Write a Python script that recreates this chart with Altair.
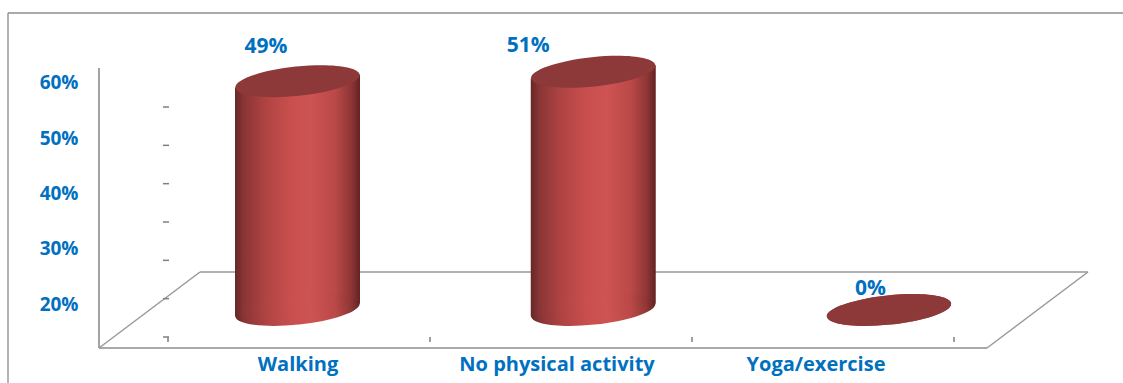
import math
import altair as alt
import pandas as pd

# ---------------- data ----------------
categories = ["Walking", "No physical activity", "Yoga/exercise"]
values = [0.49, 0.51, 0.0]
value_labels = ["49%", "51%", "0%"]
axis_ticks = [0.2, 0.3, 0.4, 0.5, 0.6]
wall_ticks = [0.0, 0.1, 0.2, 0.3, 0.4, 0.5, 0.6]
floor_ticks = [0, 1, 2, 3]

# ---------------- layout / style ----------------
W, H = 989, 328
BLUE = "#0070C0"
FONT = "Open Sans"
GRID = "#999999"
TILT_DEG = 6.0
CYL_HALF = 0.2113  # half cylinder width in category units

cyl_x_dom = [-0.6712, 2.6729]
cyl_y_dom = [-0.0814, 0.6210]
lab_y_dom = [0.1204, 0.7140]
wall_y_dom = [-0.0287, 0.8270]
floor_x_dom = [-0.2634, 3.5115]
cat_x_dom = [-0.7683, 3.0502]

px_per_unit_y = H / (cyl_y_dom[1] - cyl_y_dom[0])
px_per_unit_x = W / (cyl_x_dom[1] - cyl_x_dom[0])
slant = math.tan(math.radians(TILT_DEG)) * CYL_HALF * px_per_unit_x / px_per_unit_y

df = pd.DataFrame({"cat": categories, "i": range(3), "v": values,
                   "lab": value_labels, "base": [0.0] * 3})

rows = []
for i, (c, v) in enumerate(zip(categories, values)):
    rows.append({"cat": c, "x": i - CYL_HALF, "top": v - slant, "bot": -slant})
    rows.append({"cat": c, "x": i + CYL_HALF, "top": v + slant, "bot": slant})
body_df = pd.DataFrame(rows)

body_grad = alt.LinearGradient(
    gradient="linear", x1=0, x2=1, y1=0, y2=0,
    stops=[
        alt.GradientStop(color="#672727", offset=0),
        alt.GradientStop(color="#8a3535", offset=0.07),
        alt.GradientStop(color="#b04443", offset=0.25),
        alt.GradientStop(color="#c94f4e", offset=0.45),
        alt.GradientStop(color="#ce5453", offset=0.6),
        alt.GradientStop(color="#ba4947", offset=0.8),
        alt.GradientStop(color="#8e3635", offset=0.93),
        alt.GradientStop(color="#632222", offset=1),
    ],
)

ELLIPSE = "M -1 0 A 1 0.235 0 1 1 1 0 A 1 0.235 0 1 1 -1 0 Z"
ELL_SIZE = (2 * CYL_HALF * px_per_unit_x) ** 2

one = alt.Data(values=[{}])


def rule(x, y, x2=None, y2=None, color=GRID, sw=1.5):
    enc = {"x": alt.value(x), "y": alt.value(y)}
    if x2 is not None:
        enc["x2"] = alt.value(x2)
    if y2 is not None:
        enc["y2"] = alt.value(y2)
    return alt.Chart(one).mark_rule(color=color, strokeWidth=sw).encode(**enc)


# outer frame and 3D floor
frame = [
    rule(-91, -7, x2=1030, y2=-7, color="#8c8c8c", sw=1.3),
    rule(-91, -7, x2=-91, y2=380, color="#8c8c8c", sw=1.3),
    rule(0, 48, x2=0, y2=328, color="#8c8c8c", sw=1.6),
    rule(0, 328, x2=888, y2=328, color="#8c8c8c", sw=1.6),
    rule(101, 252, x2=989, y2=252, color="#999999", sw=1.5),
    rule(0, 328, x2=101, y2=252, color="#999999", sw=1.5),
    rule(888, 328, x2=989, y2=252, color="#999999", sw=1.5),
]

wall = alt.Chart(pd.DataFrame({"t": wall_ticks})).mark_rule(
    color="#7f7f7f", strokeWidth=1.5
).encode(
    x=alt.value(64), x2=alt.value(70),
    y=alt.Y("t:Q", scale=alt.Scale(domain=wall_y_dom), axis=None),
)

floor = alt.Chart(pd.DataFrame({"k": floor_ticks})).mark_rule(
    color="#7f7f7f", strokeWidth=1.5
).encode(
    x=alt.X("k:Q", scale=alt.Scale(domain=floor_x_dom), axis=None),
    y=alt.value(317), y2=alt.value(322),
)

cx = alt.X("x:Q", scale=alt.Scale(domain=cyl_x_dom), axis=None)

body = alt.Chart(body_df).mark_area(orient="vertical", fill=body_grad, opacity=1).encode(
    x=cx,
    y=alt.Y("top:Q", scale=alt.Scale(domain=cyl_y_dom), axis=None),
    y2="bot:Q",
    detail="cat:N",
)

px = alt.X("i:Q", scale=alt.Scale(domain=cyl_x_dom), axis=None)

bottom = alt.Chart(df).mark_point(
    shape=ELLIPSE, size=ELL_SIZE, filled=True, fill=body_grad, opacity=1,
    strokeWidth=0, angle=360 - TILT_DEG,
).encode(x=px, y=alt.Y("base:Q", scale=alt.Scale(domain=cyl_y_dom), axis=None))

top = alt.Chart(df).mark_point(
    shape=ELLIPSE, size=ELL_SIZE, filled=True, color="#8d3939", opacity=1,
    strokeWidth=0, angle=360 - TILT_DEG,
).encode(x=px, y=alt.Y("v:Q", scale=alt.Scale(domain=cyl_y_dom), axis=None))

label_offsets = [(-31.5, -28), (-65, -20), (-18.5, -15)]
labels = []
for c, (ddx, ddy) in zip(categories, label_offsets):
    labels.append(
        alt.Chart(df).transform_filter(alt.datum.cat == c).mark_text(
            font=FONT, fontSize=21, fontWeight="bold", color=BLUE,
            baseline="alphabetic", align="center", dx=ddx, dy=ddy,
        ).encode(
            x=px,
            y=alt.Y("v:Q", scale=alt.Scale(domain=cyl_y_dom), axis=None),
            text="lab:N",
        )
    )

yaxis = alt.Chart(pd.DataFrame({"a": axis_ticks})).mark_point(opacity=0).encode(
    y=alt.Y("a:Q", scale=alt.Scale(domain=lab_y_dom),
            axis=alt.Axis(orient="left", values=axis_ticks, format=".0%",
                          labelFont=FONT, labelFontSize=19, labelFontWeight="bold",
                          labelColor=BLUE, domain=False, ticks=False, tickSize=0,
                          grid=False, labelPadding=21, title=None)),
)

cat_labels = alt.Chart(df).mark_text(
    font=FONT, fontSize=20, fontWeight="bold", color=BLUE,
    baseline="alphabetic", align="center",
).encode(
    x=alt.X("i:Q", scale=alt.Scale(domain=cat_x_dom), axis=None),
    y=alt.value(351),
    text="cat:N",
)

chart = alt.layer(
    *frame, wall, floor, body, bottom, top, *labels, yaxis, cat_labels
).resolve_scale(x="independent", y="independent").properties(
    width=W, height=H,
    autosize=alt.AutoSizeParams(type="none"),
    padding={"left": 99, "top": 20, "right": 35, "bottom": 35},
    background="white",
).configure_view(strokeWidth=0)

chart.save("out.html", embed_options={"renderer": "svg", "actions": False})
